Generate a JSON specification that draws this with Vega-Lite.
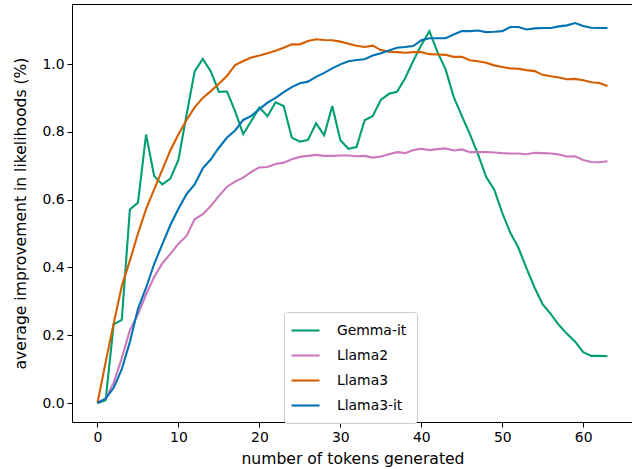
{
  "$schema": "https://vega.github.io/schema/vega-lite/v6.json",
  "width": 561,
  "height": 418,
  "autosize": {"type": "none"},
  "padding": {"left": 72, "top": 4, "right": 0, "bottom": 47},
  "background": "white",
  "datasets": {
    "wide": [
      {"t":0,"g":0,"l2":0,"l3":0,"l3i":0},
      {"t":1,"g":0.008,"l2":0.013,"l3":0.12,"l3i":0.013},
      {"t":2,"g":0.232,"l2":0.06,"l3":0.235,"l3i":0.045},
      {"t":3,"g":0.245,"l2":0.132,"l3":0.345,"l3i":0.1},
      {"t":4,"g":0.571,"l2":0.215,"l3":0.42,"l3i":0.18},
      {"t":5,"g":0.591,"l2":0.262,"l3":0.5,"l3i":0.278},
      {"t":6,"g":0.792,"l2":0.32,"l3":0.572,"l3i":0.34},
      {"t":7,"g":0.67,"l2":0.372,"l3":0.63,"l3i":0.41},
      {"t":8,"g":0.645,"l2":0.412,"l3":0.688,"l3i":0.468},
      {"t":9,"g":0.662,"l2":0.44,"l3":0.745,"l3i":0.525},
      {"t":10,"g":0.718,"l2":0.47,"l3":0.793,"l3i":0.573},
      {"t":11,"g":0.85,"l2":0.493,"l3":0.835,"l3i":0.616},
      {"t":12,"g":0.978,"l2":0.542,"l3":0.872,"l3i":0.645},
      {"t":13,"g":1.015,"l2":0.557,"l3":0.9,"l3i":0.692},
      {"t":14,"g":0.978,"l2":0.581,"l3":0.92,"l3i":0.719},
      {"t":15,"g":0.918,"l2":0.611,"l3":0.942,"l3i":0.753},
      {"t":16,"g":0.919,"l2":0.638,"l3":0.965,"l3i":0.783},
      {"t":17,"g":0.86,"l2":0.653,"l3":0.997,"l3i":0.804},
      {"t":18,"g":0.793,"l2":0.665,"l3":1.009,"l3i":0.835},
      {"t":19,"g":0.832,"l2":0.682,"l3":1.019,"l3i":0.847},
      {"t":20,"g":0.872,"l2":0.695,"l3":1.025,"l3i":0.867},
      {"t":21,"g":0.846,"l2":0.696,"l3":1.032,"l3i":0.886},
      {"t":22,"g":0.887,"l2":0.705,"l3":1.039,"l3i":0.9},
      {"t":23,"g":0.876,"l2":0.709,"l3":1.048,"l3i":0.917},
      {"t":24,"g":0.783,"l2":0.719,"l3":1.058,"l3i":0.932},
      {"t":25,"g":0.771,"l2":0.726,"l3":1.058,"l3i":0.943},
      {"t":26,"g":0.776,"l2":0.729,"l3":1.068,"l3i":0.948},
      {"t":27,"g":0.825,"l2":0.732,"l3":1.073,"l3i":0.962},
      {"t":28,"g":0.79,"l2":0.729,"l3":1.071,"l3i":0.974},
      {"t":29,"g":0.876,"l2":0.729,"l3":1.07,"l3i":0.987},
      {"t":30,"g":0.775,"l2":0.73,"l3":1.066,"l3i":0.999},
      {"t":31,"g":0.75,"l2":0.73,"l3":1.06,"l3i":1.008},
      {"t":32,"g":0.755,"l2":0.728,"l3":1.054,"l3i":1.012},
      {"t":33,"g":0.834,"l2":0.729,"l3":1.05,"l3i":1.014},
      {"t":34,"g":0.847,"l2":0.724,"l3":1.054,"l3i":1.025},
      {"t":35,"g":0.894,"l2":0.727,"l3":1.041,"l3i":1.032},
      {"t":36,"g":0.912,"l2":0.734,"l3":1.036,"l3i":1.04},
      {"t":37,"g":0.918,"l2":0.74,"l3":1.035,"l3i":1.048},
      {"t":38,"g":0.958,"l2":0.737,"l3":1.033,"l3i":1.05},
      {"t":39,"g":1.009,"l2":0.746,"l3":1.035,"l3i":1.053},
      {"t":40,"g":1.056,"l2":0.75,"l3":1.035,"l3i":1.07},
      {"t":41,"g":1.097,"l2":0.746,"l3":1.029,"l3i":1.076},
      {"t":42,"g":1.035,"l2":0.749,"l3":1.028,"l3i":1.076},
      {"t":43,"g":0.984,"l2":0.751,"l3":1.027,"l3i":1.076},
      {"t":44,"g":0.903,"l2":0.745,"l3":1.021,"l3i":1.087},
      {"t":45,"g":0.847,"l2":0.748,"l3":1.021,"l3i":1.097},
      {"t":46,"g":0.793,"l2":0.74,"l3":1.011,"l3i":1.097},
      {"t":47,"g":0.734,"l2":0.74,"l3":1.008,"l3i":1.099},
      {"t":48,"g":0.667,"l2":0.74,"l3":1.004,"l3i":1.094},
      {"t":49,"g":0.63,"l2":0.739,"l3":0.996,"l3i":1.095},
      {"t":50,"g":0.561,"l2":0.737,"l3":0.991,"l3i":1.097},
      {"t":51,"g":0.502,"l2":0.736,"l3":0.987,"l3i":1.109},
      {"t":52,"g":0.458,"l2":0.736,"l3":0.986,"l3i":1.109},
      {"t":53,"g":0.397,"l2":0.734,"l3":0.982,"l3i":1.102},
      {"t":54,"g":0.34,"l2":0.738,"l3":0.979,"l3i":1.105},
      {"t":55,"g":0.291,"l2":0.737,"l3":0.968,"l3i":1.106},
      {"t":56,"g":0.262,"l2":0.736,"l3":0.964,"l3i":1.106},
      {"t":57,"g":0.23,"l2":0.733,"l3":0.96,"l3i":1.111},
      {"t":58,"g":0.204,"l2":0.727,"l3":0.955,"l3i":1.114},
      {"t":59,"g":0.181,"l2":0.728,"l3":0.956,"l3i":1.121},
      {"t":60,"g":0.15,"l2":0.717,"l3":0.952,"l3i":1.112},
      {"t":61,"g":0.139,"l2":0.711,"l3":0.946,"l3i":1.107},
      {"t":62,"g":0.139,"l2":0.71,"l3":0.944,"l3i":1.106},
      {"t":63,"g":0.138,"l2":0.713,"l3":0.935,"l3i":1.106}
    ]
  },
  "data": {"name": "wide"},
  "transform": [
    {"fold": ["g", "l2", "l3", "l3i"], "as": ["key", "value"]},
    {"lookup": "key", "from": {"data": {"values": [
      {"key": "g", "model": "Gemma-it"},
      {"key": "l2", "model": "Llama2"},
      {"key": "l3", "model": "Llama3"},
      {"key": "l3i", "model": "Llama3-it"}
    ]}, "key": "key", "fields": ["model"]}}
  ],
  "mark": {"type": "line", "strokeWidth": 2.1, "clip": true},
  "encoding": {
    "x": {
      "field": "t", "type": "quantitative",
      "scale": {"domain": [-3.15, 66.15], "nice": false, "zero": false},
      "axis": {"values": [0, 10, 20, 30, 40, 50, 60], "format": "d", "title": "number of tokens generated", "titlePadding": 8}
    },
    "y": {
      "field": "value", "type": "quantitative",
      "scale": {"domain": [-0.056, 1.177], "nice": false, "zero": false},
      "axis": {"values": [0, 0.2, 0.4, 0.6, 0.8, 1.0], "format": ".1f", "title": "average improvement in likelihoods (%)", "titlePadding": 13}
    },
    "color": {
      "field": "model", "type": "nominal",
      "scale": {"domain": ["Gemma-it", "Llama2", "Llama3", "Llama3-it"], "range": ["#029e73", "#cc78bc", "#d55e00", "#0173b2"]},
      "legend": {
        "title": null, "orient": "none", "legendX": 212, "legendY": 308,
        "symbolType": "M-1.57,0L2.43,0", "symbolSize": 196, "symbolStrokeWidth": 2.1,
        "labelFont": "DejaVu Sans", "labelFontSize": 13.9, "labelColor": "black", "labelOffset": 26,
        "rowPadding": 9, "padding": 10, "strokeColor": "#cccccc", "fillColor": "white", "cornerRadius": 3
      }
    }
  },
  "config": {
    "view": {"stroke": "black", "strokeWidth": 1},
    "axis": {
      "domain": false, "grid": false, "tickColor": "black", "tickSize": 5, "tickWidth": 1,
      "labelFont": "DejaVu Sans", "labelFontSize": 13.9, "labelColor": "black", "labelPadding": 3,
      "titleFont": "DejaVu Sans", "titleFontSize": 15.6, "titleFontWeight": "normal", "titleColor": "black"
    }
  }
}
